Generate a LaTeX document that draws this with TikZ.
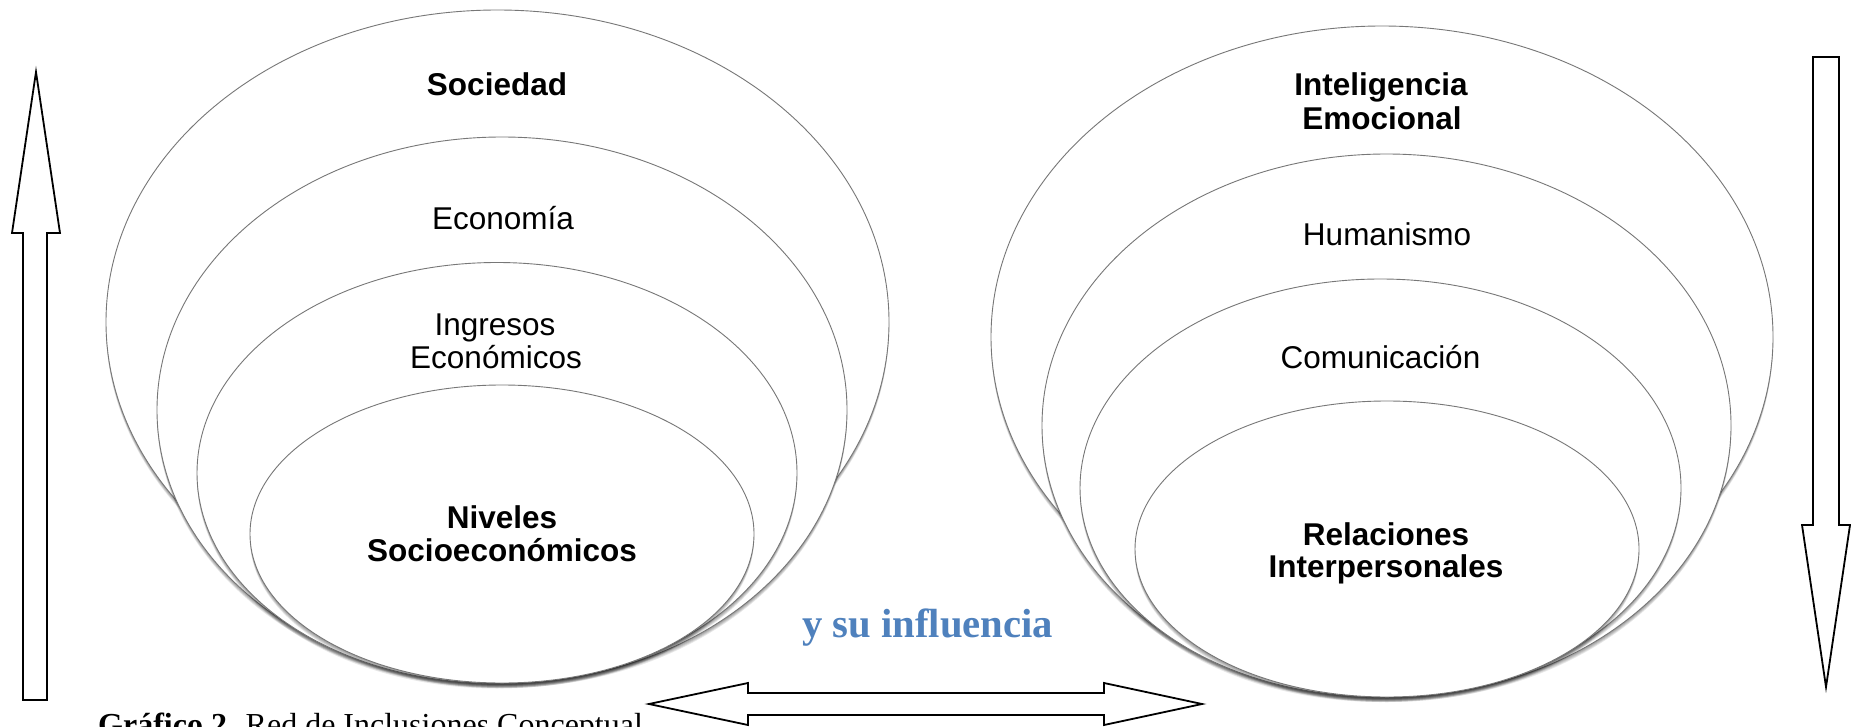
\documentclass[tikz,border=0pt]{standalone}
\usepackage{fontspec}
\setmainfont{Liberation Sans}
\newfontfamily\capfont{Liberation Serif}
\definecolor{ellline}{HTML}{777777}
\definecolor{infblue}{HTML}{4F81BD}
\newcommand\vennell[4]{%
  \foreach \s in {1,2,3,4,5}{\fill[black,opacity=0.09] (#1,#2+\s) ellipse [x radius=#3pt, y radius=#4pt];}
  \draw[ell] (#1,#2) ellipse [x radius=#3pt, y radius=#4pt];
}
\begin{document}
\begin{tikzpicture}[x=1pt,y=-1pt,
  ell/.style={draw=ellline, line width=0.9pt, fill=white},
  lbl/.style={font=\fontsize{31.5}{33.5}\selectfont, anchor=base, inner sep=0pt},
  blbl/.style={lbl, font=\fontsize{31.5}{33.5}\selectfont\bfseries},
  arr/.style={draw=black, line width=1.8pt, fill=white, line join=miter}]
\useasboundingbox (0,0) rectangle (1851,727);
\clip (0,0) rectangle (1851,727);
\fill[white] (0,0) rectangle (1851,727);

% left group
\vennell{497.5}{322}{391.5}{312}
\vennell{502}{410}{345}{273}
\vennell{497}{473}{300}{210.5}
\vennell{502}{534}{252}{149}
% right group
\vennell{1382}{337}{391}{311}
\vennell{1386.5}{425.5}{344.5}{271.5}
\vennell{1380.5}{488}{300.5}{209}
\vennell{1387}{549}{252}{148}

% labels left
\node[blbl] (soc) at (497,96) {Sociedad};
\node[lbl] (eco) at (503,230) {Economía};
\node[lbl] (ing1) at (495,335) {Ingresos};
\node[lbl] (ing2) at (496,368) {Económicos};
\node[blbl] (niv1) at (502,528) {Niveles};
\node[blbl] (niv2) at (502,561) {Socioeconómicos};
% labels right
\node[blbl] (int1) at (1381,96) {Inteligencia};
\node[blbl] (int2) at (1382,130) {Emocional};
\node[lbl] (hum) at (1387,246) {Humanismo};
\node[lbl] (com) at (1380.5,368) {Comunicación};
\node[blbl] (rel1) at (1386,545) {Relaciones};
\node[blbl] (rel2) at (1386,577) {Interpersonales};

% influence text
\node[anchor=base west, inner sep=0pt, text=infblue,
      font=\capfont\bfseries\fontsize{40.7}{44}\selectfont] (inf) at (802,637) {y su influencia};

% caption (cut by the bottom edge, as in the reference)
\node[anchor=base west, inner sep=0pt, font=\capfont\fontsize{32}{36}\selectfont] (cap) at (98,735)
  {\textbf{Gráfico 2.} Red de Inclusiones Conceptual};

% arrows
\draw[arr] (36,72) -- (60,233) -- (47,233) -- (47,700) -- (23,700) -- (23,233) -- (12,233) -- cycle;
\draw[arr] (1813,57) -- (1839,57) -- (1839,525) -- (1850,525) -- (1826,687) -- (1802,525) -- (1813,525) -- cycle;
\draw[arr] (649,704) -- (748,683) -- (748,693) -- (1104,693) -- (1104,683) -- (1202,704)
  -- (1104,725) -- (1104,715) -- (748,715) -- (748,725) -- cycle;
\end{tikzpicture}
\end{document}
